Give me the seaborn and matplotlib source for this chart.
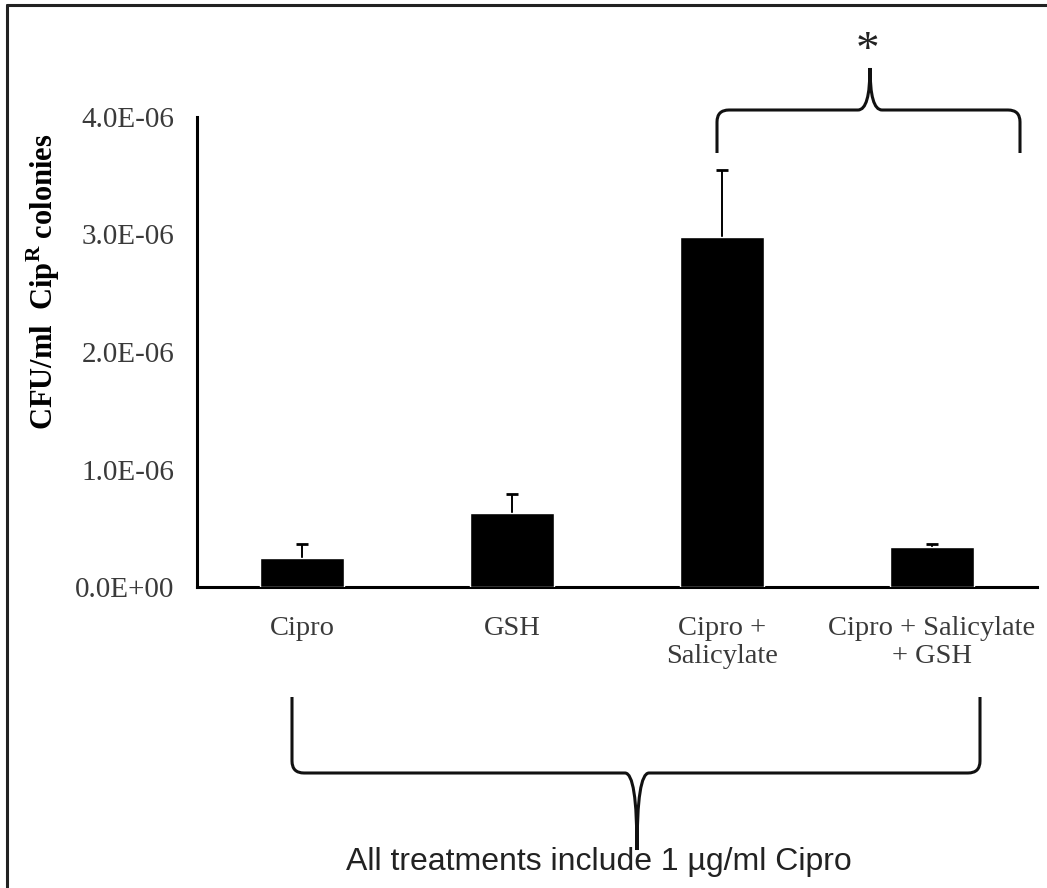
import matplotlib
matplotlib.use("Agg")
import matplotlib.pyplot as plt
from matplotlib.path import Path
from matplotlib.patches import PathPatch
from matplotlib.lines import Line2D
import seaborn as sns
import pandas as pd

# ---- data ----
categories = ["Cipro", "GSH", "Cipro +\nSalicylate", "Cipro + Salicylate\n+ GSH"]
values = [0.25e-6, 0.63e-6, 2.98e-6, 0.34e-6]
errors = [0.12e-6, 0.16e-6, 0.57e-6, 0.03e-6]
yticks = [0.0, 1.0e-6, 2.0e-6, 3.0e-6, 4.0e-6]
ytick_labels = ["0.0E+00", "1.0E-06", "2.0E-06", "3.0E-06", "4.0E-06"]
ylabel_text = r"CFU/ml  Cip$^{\mathbf{R}}$ colonies"
footnote = "All treatments include 1 µg/ml Cipro"
sig_mark = "*"

W, H = 1047, 888
sns.set_theme(style="white")
plt.rcParams["font.family"] = ["Liberation Serif", "DejaVu Serif"]
plt.rcParams["mathtext.fontset"] = "custom"
plt.rcParams["mathtext.rm"] = "Liberation Serif"
plt.rcParams["mathtext.bf"] = "Liberation Serif:bold"

fig = plt.figure(figsize=(W / 100, H / 100), dpi=100)
fig.patch.set_facecolor("white")

def fx(x):
    return x / W

def fy(y):
    return 1 - y / H

ax = fig.add_axes([fx(197), fy(587), fx(1037) - fx(197), fy(117) - fy(587)])
ax.set_facecolor("white")

df = pd.DataFrame({"cat": categories, "val": values})
sns.barplot(data=df, x="cat", y="val", color="black", width=0.4,
            saturation=1, errorbar=None, ax=ax)
for p in ax.patches:
    p.set_zorder(3)

# upper-only error bars: stem from bar top, cap marker at the top
tops = [v + e for v, e in zip(values, errors)]
ax.errorbar(x=list(range(len(categories))), y=tops,
            yerr=[errors, [0] * len(errors)], fmt="_", color="black",
            ms=9, mew=2.0, ecolor="black", elinewidth=1.4, capsize=0, zorder=2)

ax.set_xlim(-0.5, 3.5)
ax.set_ylim(0, 4.0e-6)
ax.set_yticks(yticks)
ax.set_yticklabels(ytick_labels, fontsize=21, color="#3a3a3a")
ax.set_xticks(range(len(categories)))
ax.set_xticklabels(categories, fontsize=20.5, color="#3a3a3a", linespacing=1.15)
ax.tick_params(axis="x", length=0, pad=21)
ax.tick_params(axis="y", length=5, width=1.5, direction="inout", pad=14, color="black")
# category boundary ticks on x axis
ax.set_xticks([-0.5, 0.5, 1.5, 2.5, 3.5], minor=True)
ax.tick_params(axis="x", which="minor", length=6, width=2, direction="out", color="black")
ax.set_xlabel("")
ax.set_ylabel(ylabel_text, fontsize=22, fontweight="bold", color="black")
ax.yaxis.set_label_coords((62 - 197) / 840, (587 - 282) / 470)

for s in ["top", "right"]:
    ax.spines[s].set_visible(False)
for s in ["left", "bottom"]:
    ax.spines[s].set_color("black")
    ax.spines[s].set_linewidth(2.2)

# ---- figure frame (top and left) ----
fig.add_artist(Line2D([fx(7), fx(W)], [fy(5), fy(5)], color="#222222", lw=2.2,
                      transform=fig.transFigure))
fig.add_artist(Line2D([fx(7), fx(7)], [fy(5), fy(H)], color="#222222", lw=2.2,
                      transform=fig.transFigure))

# ---- braces ----
def brace(x0, x1, xt, y_end, y_bar, y_tip, r=12):
    d = 1 if y_bar > y_end else -1
    pts = [
        (x0, y_end), (x0, y_bar - d * r), (x0, y_bar), (x0 + r, y_bar),
        (xt - r, y_bar), (xt, y_bar), (xt, y_tip),
        (xt, y_bar), (xt + r, y_bar),
        (x1 - r, y_bar), (x1, y_bar), (x1, y_bar - d * r), (x1, y_end),
    ]
    codes = [Path.MOVETO, Path.LINETO, Path.CURVE3, Path.CURVE3,
             Path.LINETO, Path.CURVE3, Path.CURVE3,
             Path.CURVE3, Path.CURVE3,
             Path.LINETO, Path.CURVE3, Path.CURVE3, Path.LINETO]
    verts = [(fx(x), fy(y)) for x, y in pts]
    patch = PathPatch(Path(verts, codes), facecolor="none", edgecolor="#111111",
                      lw=2.2, transform=fig.transFigure)
    fig.add_artist(patch)

brace(717, 1020, 870, 153, 110, 68)
brace(292, 980, 637, 697, 773, 850)

fig.text(fx(868), fy(52), sig_mark, fontsize=34, ha="center", va="center",
         color="#222222", family=["Liberation Serif"])
fig.text(fx(599), fy(862), footnote, fontsize=23, ha="center", va="center",
         color="#222222", family=["Liberation Sans", "DejaVu Sans"])

fig.savefig("out.png", dpi=100, facecolor="white")
